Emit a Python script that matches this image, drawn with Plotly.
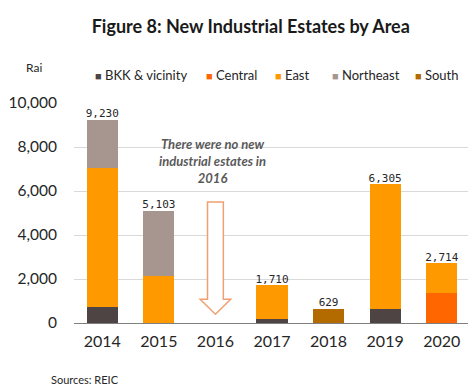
import plotly.graph_objects as go

years = ["2014", "2015", "2016", "2017", "2018", "2019", "2020"]
bkk = [730, 0, 0, 200, 0, 650, 0]
central = [0, 0, 0, 0, 0, 0, 1370]
east = [6300, 2150, 0, 1510, 0, 5655, 1344]
northeast = [2200, 2953, 0, 0, 0, 0, 0]
south = [0, 0, 0, 0, 629, 0, 0]
totals = [9230, 5103, None, 1710, 629, 6305, 2714]
total_labels = ["9,230", "5,103", "", "1,710", "629", "6,305", "2,714"]
y_ticks = [0, 2000, 4000, 6000, 8000, 10000]
y_tick_labels = ["0", "2,000", "4,000", "6,000", "8,000", "10,000"]

series_names = ["BKK & vicinity", "Central", "East", "Northeast", "South"]
series_values = [bkk, central, east, northeast, south]
series_colors = ["#4E4444", "#FF6600", "#FF9900", "#A6968F", "#B36B00"]
legend_x = [0.048, 0.328, 0.503, 0.647, 0.856]

FONT = "Lato, 'Open Sans', sans-serif"
TXT = "#262626"

fig = go.Figure()
for name, vals, col in zip(series_names, series_values, series_colors):
    fig.add_trace(go.Bar(x=years, y=vals, name=name, showlegend=False,
                         marker=dict(color=col, line_width=0)))

fig.add_trace(go.Scatter(
    x=years, y=totals, mode="text", text=total_labels, textposition="top center",
    textfont=dict(size=11, color=TXT, family="'DejaVu Sans Mono', monospace"),
    showlegend=False, hoverinfo="skip", cliponaxis=False))

# hollow arrow over 2016 (category index 2)
ax = 2
sw, hw = 0.14, 0.27
ytop, yhead, ytip = 5500, 1080, 400
path = (f"M {ax-sw} {ytop} L {ax+sw} {ytop} L {ax+sw} {yhead} L {ax+hw} {yhead} "
        f"L {ax} {ytip} L {ax-hw} {yhead} L {ax-sw} {yhead} Z")
fig.add_shape(type="path", path=path, xref="x", yref="y",
              line=dict(color="#F0A070", width=1.5), fillcolor="white")

fig.add_annotation(x=1.95, y=7350, xref="x", yref="y",
                   text="<b><i>There were no new<br>industrial estates in<br>2016</i></b>",
                   showarrow=False, font=dict(size=13, color="#595959", family=FONT),
                   align="center")

# legend row (text annotations with coloured squares)
for name, col, lx in zip(series_names, series_colors, legend_x):
    fig.add_annotation(x=lx, y=1.129, xref="paper", yref="paper", xanchor="left",
                       yanchor="middle", showarrow=False,
                       text=f"<span style='color:{col};font-size:11px'>■</span> {name}",
                       font=dict(size=13, color=TXT, family=FONT))

fig.add_annotation(x=-0.101, y=1.16, xref="paper", yref="paper", text="Rai",
                   showarrow=False, xanchor="center", yanchor="middle",
                   font=dict(size=12, color=TXT, family=FONT))
fig.add_annotation(x=-0.064, y=-0.258, xref="paper", yref="paper", text="Sources: REIC",
                   showarrow=False, xanchor="left", yanchor="middle",
                   font=dict(size=11, color=TXT, family=FONT))

fig.update_layout(
    width=476, height=388,
    margin=dict(l=66, r=14, t=95, b=73, autoexpand=False),
    paper_bgcolor="white", plot_bgcolor="white",
    barmode="stack", bargap=0.45,
    showlegend=False,
    font=dict(family=FONT, color=TXT),
    title=dict(text="<b>Figure 8: New Industrial Estates by Area</b>",
               x=0.51, xref="container", xanchor="center", y=0.953, yanchor="middle",
               font=dict(size=18, color="#1a1a1a", family=FONT)),
    xaxis=dict(type="category", showline=True, linecolor="#7F7F7F", linewidth=1,
               ticks="", tickfont=dict(size=16, color=TXT, family=FONT),
               ticklabelstandoff=4, automargin=False),
    yaxis=dict(range=[0, 10000], tickvals=y_ticks, ticktext=y_tick_labels,
               showgrid=True, gridcolor="#D9D9D9", gridwidth=1, zeroline=False,
               tickfont=dict(size=15.5, color=TXT, family=FONT), ticks="",
               ticklabelstandoff=16, automargin=False),
)

fig.write_html("out.html")
